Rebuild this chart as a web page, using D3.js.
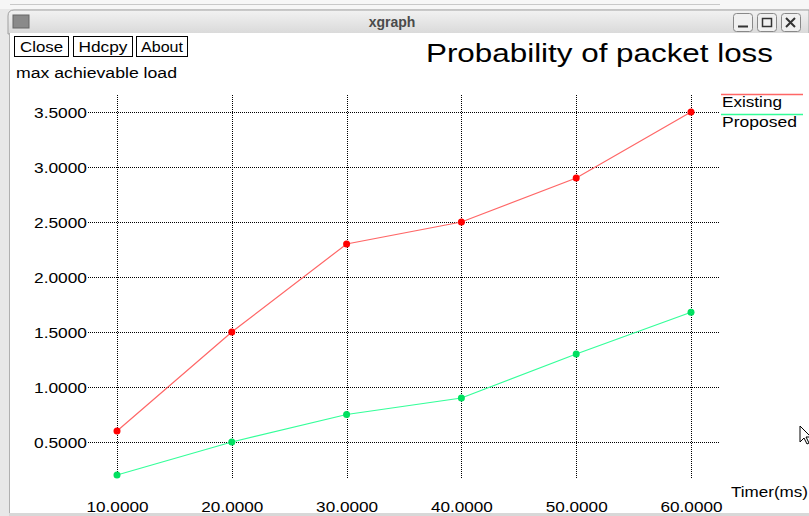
<!DOCTYPE html>
<html><head><meta charset="utf-8">
<script src="https://cdn.jsdelivr.net/npm/d3@7"></script>
<style>html,body{margin:0;padding:0;background:#fff;overflow:hidden}svg{display:block}</style>
</head><body>
<script>
const timers = [10, 20, 30, 40, 50, 60];
const existing = [0.6, 1.5, 2.3, 2.5, 2.9, 3.5];
const proposed = [0.2, 0.5, 0.75, 0.9, 1.3, 1.68];
const xTicks = [10, 20, 30, 40, 50, 60];
const yTicks = [0.5, 1.0, 1.5, 2.0, 2.5, 3.0, 3.5];
const seriesNames = ["Existing", "Proposed"];
const lineColors = ["#ff6666", "#33ff99"];
const dotColors = ["#ff0000", "#00e060"];

const W = 809, H = 516;
const svg = d3.select("body").append("svg").attr("width", W).attr("height", H);
const font = "'Liberation Sans', Arial, sans-serif";
const ADJ = "spacingAndGlyphs";

// desktop strip & window chrome
svg.append("rect").attr("x",0).attr("y",0).attr("width",W).attr("height",H).attr("fill","#e8e8e8");
svg.append("rect").attr("x",0).attr("y",0).attr("width",W).attr("height",9).attr("fill","#f6f6f6");
svg.append("line").attr("x1",10).attr("x2",720).attr("y1",4.5).attr("y2",4.5).attr("stroke","#c8c8c8");
const defs = svg.append("defs");
const g1 = defs.append("linearGradient").attr("id","tb").attr("x1",0).attr("y1",0).attr("x2",0).attr("y2",1);
g1.append("stop").attr("offset","0").attr("stop-color","#f2f2f2");
g1.append("stop").attr("offset","1").attr("stop-color","#d9d9d9");
svg.append("path").attr("d","M8,34 L8,16 Q8,10 14,10 L809,10 L809,34 Z").attr("fill","url(#tb)").attr("stroke","#a0a0a0");
svg.append("rect").attr("x",9).attr("y",33).attr("width",W-9).attr("height",480).attr("fill","#fff");
svg.append("line").attr("x1",9.5).attr("x2",9.5).attr("y1",33).attr("y2",514).attr("stroke","#b0b0b0");
svg.append("rect").attr("x",9).attr("y",513).attr("width",W).attr("height",3).attr("fill","#d8d8d8");
svg.append("rect").attr("x",13).attr("y",15).attr("width",16).attr("height",13).attr("fill","#8a8a8a").attr("stroke","#666");
svg.append("text").attr("x",392).attr("y",27).attr("text-anchor","middle").attr("font-family",font)
  .attr("font-weight","bold").attr("font-size",14).attr("fill","#4a4a4a").text("xgraph");
[733,757,781].forEach((bx,i)=>{
  svg.append("rect").attr("x",bx+0.5).attr("y",13.5).attr("width",19).attr("height",18).attr("rx",3)
    .attr("fill","#f0f0f0").attr("stroke","#888");
});
svg.append("line").attr("x1",738).attr("x2",748).attr("y1",26.5).attr("y2",26.5).attr("stroke","#333").attr("stroke-width",2);
svg.append("rect").attr("x",762.5).attr("y",18.5).attr("width",9).attr("height",8).attr("fill","none").attr("stroke","#333").attr("stroke-width",1.5);
svg.append("path").attr("d","M786,18 L795,27 M795,18 L786,27").attr("stroke","#333").attr("stroke-width",2);

function txt(x0, y0, s, size, len, anchor) {
  const t = svg.append("text").attr("x",x0).attr("y",y0).attr("font-family",font).attr("font-size",size)
    .attr("text-anchor",anchor||"start").text(s);
  if (len) t.attr("textLength",len).attr("lengthAdjust",ADJ);
  return t;
}

// buttons
[["Close",14,54,43],["Hdcpy",73,59,49],["About",136,51,42]].forEach(([t,bx,bw,tl])=>{
  svg.append("rect").attr("x",bx+0.5).attr("y",36.5).attr("width",bw).attr("height",20).attr("fill","#fff").attr("stroke","#000");
  txt(bx+bw/2+0.5, 52, t, 14, tl, "middle");
});

// scales
const x = d3.scaleLinear().domain([10,60]).range([117,691]);
const y = d3.scaleLinear().domain([0.5,3.5]).range([442,112]);

// grid
const grid = svg.append("g");
grid.selectAll(".hg").data(yTicks).join("line")
  .attr("x1",88).attr("x2",720).attr("y1",d=>Math.round(y(d))+0.5).attr("y2",d=>Math.round(y(d))+0.5)
  .attr("stroke","#000").attr("stroke-dasharray","1,1");
grid.selectAll(".vg").data(xTicks).join("line")
  .attr("x1",d=>Math.round(x(d))+0.5).attr("x2",d=>Math.round(x(d))+0.5).attr("y1",95).attr("y2",479)
  .attr("stroke","#000").attr("stroke-dasharray","1,1");

// axes labels via d3 axes (domain/ticks hidden)
const yAxis = svg.append("g").attr("transform","translate(88,0)")
  .call(d3.axisLeft(y).tickValues(yTicks).tickSize(0).tickPadding(1).tickFormat(d3.format(".4f")));
yAxis.select(".domain").remove();
yAxis.selectAll("text").attr("font-family",font).attr("font-size",14).attr("fill","#000").attr("dy","0.36em")
  .attr("textLength",53).attr("lengthAdjust",ADJ);
const xAxis = svg.append("g").attr("transform","translate(0,499)")
  .call(d3.axisBottom(x).tickValues(xTicks).tickSize(0).tickPadding(0).tickFormat(d3.format(".4f")));
xAxis.select(".domain").remove();
xAxis.selectAll("text").attr("font-family",font).attr("font-size",14).attr("fill","#000").attr("dy","0.9em")
  .attr("textLength",62).attr("lengthAdjust",ADJ);

txt(16, 78, "max achievable load", 14, 161);
txt(731, 497, "Timer(ms)", 14, 77);
txt(426, 62, "Probability of packet loss", 25, 347);

// series
const data = [existing, proposed];
data.forEach((vals,i)=>{
  const pts = timers.map((t,j)=>[t, vals[j]]);
  svg.append("path").datum(pts)
    .attr("d", d3.line().x(d=>x(d[0])).y(d=>y(d[1])))
    .attr("fill","none").attr("stroke",lineColors[i]).attr("stroke-width",1.2);
  svg.selectAll(".dot"+i).data(pts).join("circle")
    .attr("cx",d=>x(d[0])).attr("cy",d=>y(d[1])).attr("r",3.5).attr("fill",dotColors[i]);
});

// legend
const legLens = [60, 75];
seriesNames.forEach((n,i)=>{
  const ly = 94 + i*20;
  svg.append("line").attr("x1",721).attr("x2",803).attr("y1",ly+0.5).attr("y2",ly+0.5).attr("stroke",lineColors[i]).attr("stroke-width",1.5);
  txt(722, ly+12.5, n, 14, legLens[i]);
});

// mouse cursor
svg.append("path").attr("d","M800,426 L800,442 L804,438 L807,444 L809,443 L806,437 L811,437 Z")
  .attr("fill","#fff").attr("stroke","#000");
</script>
</body></html>
